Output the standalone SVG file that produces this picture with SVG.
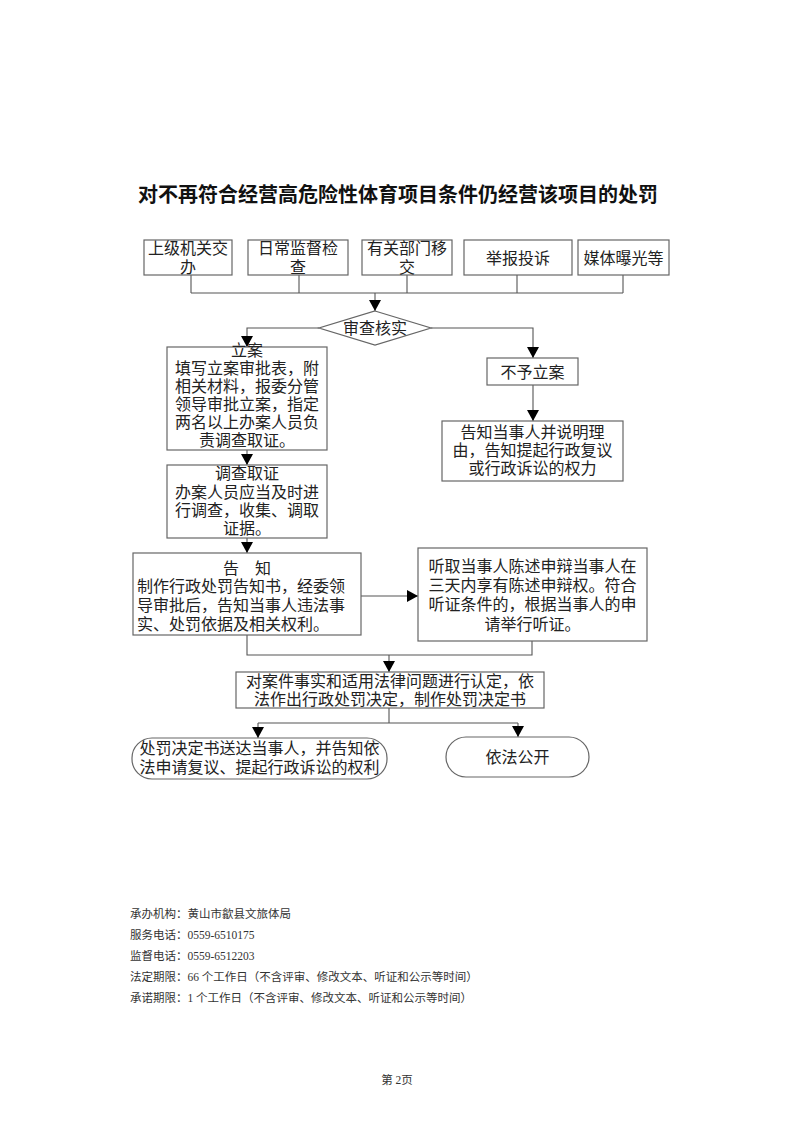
<svg xmlns="http://www.w3.org/2000/svg" width="793" height="1122" viewBox="0 0 793 1122">
<style>
  .box { fill: #ffffff; stroke: #666666; stroke-width: 1.2; }
  .t { font-family: "Liberation Serif", "Noto Sans CJK SC", serif; font-size: 16px; fill: #222222; text-anchor: middle; }
  .tl { font-family: "Liberation Serif", "Noto Sans CJK SC", serif; font-size: 16px; fill: #222222; }
  .title { font-family: "Noto Sans CJK SC", sans-serif; font-size: 20px; font-weight: bold; fill: #111111; text-anchor: middle; }
  .foot { font-family: "Liberation Serif", "Noto Sans CJK SC", serif; font-size: 11.5px; fill: #333333; }
  .ln { fill: none; stroke: #555555; stroke-width: 1.1; }
</style>
<defs>
  <marker id="arr" markerUnits="userSpaceOnUse" markerWidth="12" markerHeight="12" viewBox="0 0 12 12" refX="11" refY="6" orient="auto">
    <path d="M0,0 L11,6 L0,12 Z" fill="#000000"/>
  </marker>
</defs>
<rect x="0" y="0" width="793" height="1122" fill="#ffffff"/>

<text class="title" x="398" y="202">对不再符合经营高危险性体育项目条件仍经营该项目的处罚</text>

<g id="connectors">
  <path class="ln" d="M191,275 V293 M299,275 V293 M407,275 V293 M517,275 V293 M623,275 V293 M191,293 H623"/>
  <path class="ln" d="M375,293 V311" marker-end="url(#arr)"/>
  <path class="ln" d="M319,328 H247 V347" marker-end="url(#arr)"/>
  <path class="ln" d="M431,328 H533 V358" marker-end="url(#arr)"/>
  <path class="ln" d="M533,385 V421" marker-end="url(#arr)"/>
  <path class="ln" d="M247,450 V465" marker-end="url(#arr)"/>
  <path class="ln" d="M247,538 V553" marker-end="url(#arr)"/>
  <path class="ln" d="M361,596 H418" marker-end="url(#arr)"/>
  <path class="ln" d="M247,635 V655 H532 V641"/>
  <path class="ln" d="M389,655 V672" marker-end="url(#arr)"/>
  <path class="ln" d="M389,708 V723 M258,723 H518"/>
  <path class="ln" d="M258,723 V738" marker-end="url(#arr)"/>
  <path class="ln" d="M518,723 V737" marker-end="url(#arr)"/>
</g>

<g id="src1">
  <rect class="box" x="144" y="240" width="88" height="35"/>
  <text class="t" x="188" y="254">上级机关交</text>
  <text class="t" x="188" y="273">办</text>
</g>
<g id="src2">
  <rect class="box" x="248" y="240" width="100" height="35"/>
  <text class="t" x="298" y="254">日常监督检</text>
  <text class="t" x="298" y="273">查</text>
</g>
<g id="src3">
  <rect class="box" x="362" y="240" width="90" height="35"/>
  <text class="t" x="407" y="254">有关部门移</text>
  <text class="t" x="407" y="273">交</text>
</g>
<g id="src4">
  <rect class="box" x="464" y="240" width="108" height="35"/>
  <text class="t" x="518" y="264">举报投诉</text>
</g>
<g id="src5">
  <rect class="box" x="578" y="240" width="91" height="35"/>
  <text class="t" x="623.5" y="264">媒体曝光等</text>
</g>

<g id="review">
  <polygon class="box" points="375,311 431,328 375,345 319,328"/>
  <text class="t" x="375" y="334">审查核实</text>
</g>

<g id="lian">
  <rect class="box" x="167" y="347" width="160" height="103"/>
  <text class="t" x="247" y="356">立案</text>
  <text class="t" x="247" y="374">填写立案审批表，附</text>
  <text class="t" x="247" y="392">相关材料，报委分管</text>
  <text class="t" x="247" y="410">领导审批立案，指定</text>
  <text class="t" x="247" y="428">两名以上办案人员负</text>
  <text class="t" x="247" y="446">责调查取证。</text>
</g>

<g id="diaocha">
  <rect class="box" x="167" y="465" width="160" height="73"/>
  <text class="t" x="247" y="479">调查取证</text>
  <text class="t" x="247" y="498">办案人员应当及时进</text>
  <text class="t" x="247" y="516">行调查，收集、调取</text>
  <text class="t" x="247" y="534">证据。</text>
</g>

<g id="gaozhi">
  <rect class="box" x="133" y="553" width="228" height="82"/>
  <text class="t" x="247" y="574">告　知</text>
  <text class="tl" x="137" y="592">制作行政处罚告知书，经委领</text>
  <text class="tl" x="137" y="611">导审批后，告知当事人违法事</text>
  <text class="tl" x="137" y="630">实、处罚依据及相关权利。</text>
</g>

<g id="tingqu">
  <rect class="box" x="418" y="548" width="229" height="93"/>
  <text class="t" x="532.5" y="572">听取当事人陈述申辩当事人在</text>
  <text class="t" x="532.5" y="591">三天内享有陈述申辩权。符合</text>
  <text class="t" x="532.5" y="610">听证条件的，根据当事人的申</text>
  <text class="t" x="532.5" y="630">请举行听证。</text>
</g>

<g id="buyu">
  <rect class="box" x="487" y="358" width="91" height="27"/>
  <text class="t" x="532.5" y="378">不予立案</text>
</g>

<g id="gaozhi2">
  <rect class="box" x="442" y="421" width="181" height="60"/>
  <text class="t" x="532.5" y="438">告知当事人并说明理</text>
  <text class="t" x="532.5" y="456">由，告知提起行政复议</text>
  <text class="t" x="532.5" y="474">或行政诉讼的权力</text>
</g>

<g id="rending">
  <rect class="box" x="236" y="672" width="308" height="36"/>
  <text class="t" x="390" y="687">对案件事实和适用法律问题进行认定，依</text>
  <text class="t" x="390" y="705">法作出行政处罚决定，制作处罚决定书</text>
</g>

<g id="songda">
  <rect class="box" x="132" y="738" width="255" height="41" rx="20" ry="20"/>
  <text class="t" x="259.5" y="754">处罚决定书送达当事人，并告知依</text>
  <text class="t" x="259.5" y="773">法申请复议、提起行政诉讼的权利</text>
</g>

<g id="gongkai">
  <rect class="box" x="446" y="737" width="143" height="40" rx="20" ry="20"/>
  <text class="t" x="517.5" y="763">依法公开</text>
</g>

<g id="footer">
  <text class="foot" x="130" y="918">承办机构：黄山市歙县文旅体局</text>
  <text class="foot" x="130" y="939">服务电话：0559-6510175</text>
  <text class="foot" x="130" y="960">监督电话：0559-6512203</text>
  <text class="foot" x="130" y="981">法定期限：66 个工作日（不含评审、修改文本、听证和公示等时间）</text>
  <text class="foot" x="130" y="1002">承诺期限：1 个工作日（不含评审、修改文本、听证和公示等时间）</text>
  <text class="foot" x="397" y="1084" text-anchor="middle">第 2页</text>
</g>
</svg>
